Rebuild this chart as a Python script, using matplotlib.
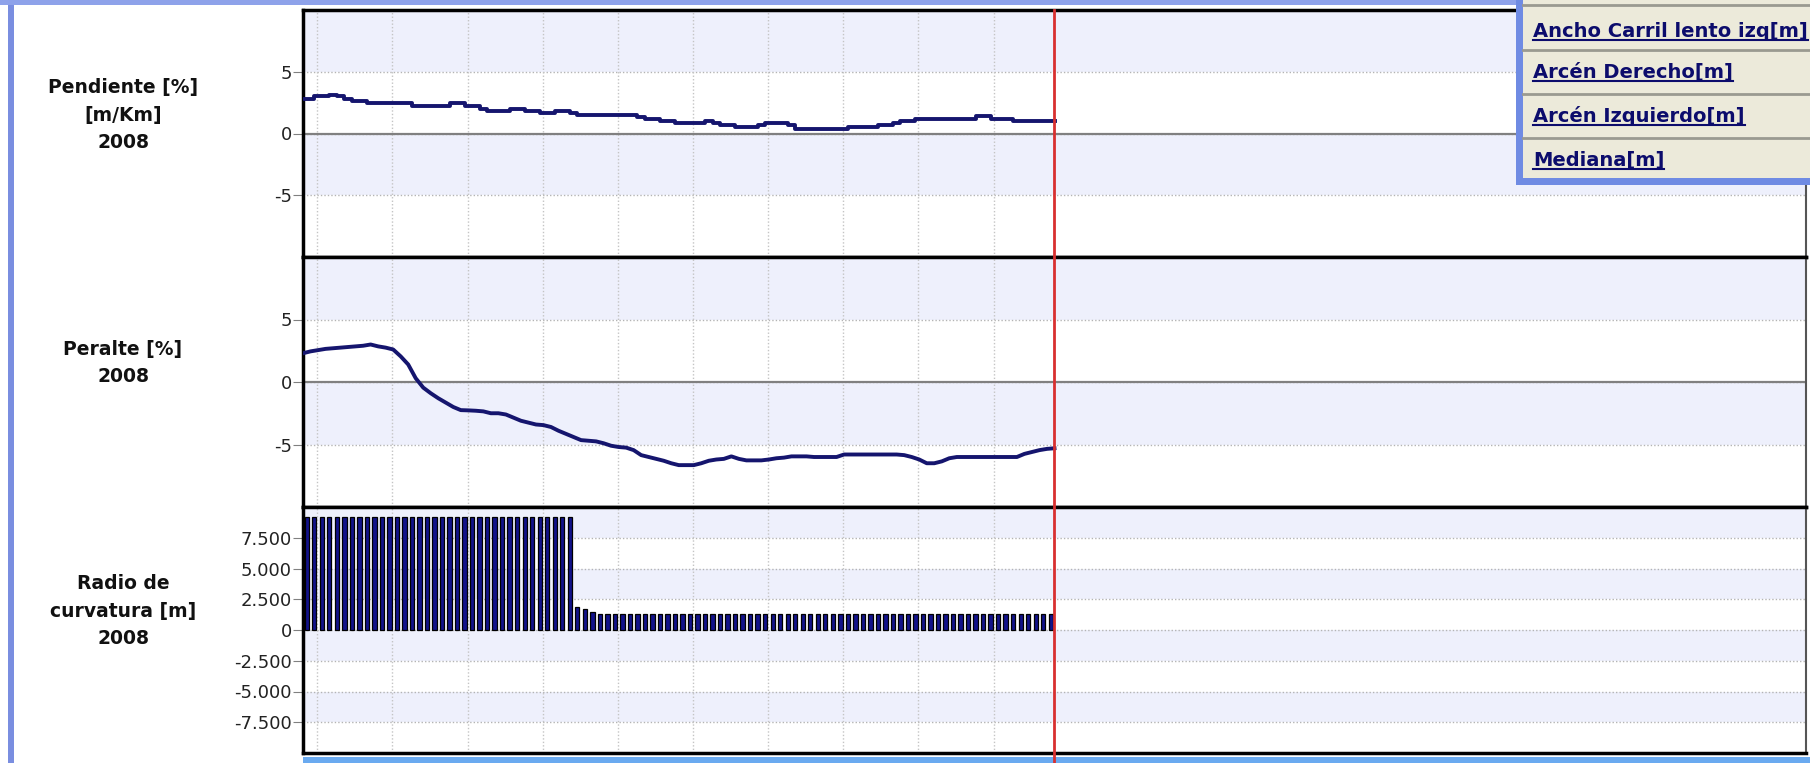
import numpy as np
import matplotlib.pyplot as plt
from matplotlib.patches import Rectangle
from matplotlib.lines import Line2D

plt.rcParams["axes.unicode_minus"] = False

# Data (road profile, 100 m steps)
pk = np.arange(101) * 0.1

pendiente = [2.8, 2.8, 3.0, 3.0, 3.1, 3.0, 2.8, 2.6, 2.6, 2.45,
             2.45, 2.45, 2.45, 2.45, 2.45, 2.25, 2.25, 2.25, 2.25, 2.25,
             2.45, 2.45, 2.25, 2.25, 2.0, 1.8, 1.8, 1.8, 2.0, 2.0,
             1.8, 1.8, 1.65, 1.65, 1.8, 1.8, 1.65, 1.5, 1.5, 1.5,
             1.5, 1.5, 1.5, 1.5, 1.5, 1.3, 1.15, 1.15, 1.0, 1.0,
             0.82, 0.82, 0.82, 0.82, 1.0, 0.82, 0.66, 0.66, 0.5, 0.5,
             0.5, 0.66, 0.82, 0.82, 0.82, 0.66, 0.37, 0.37, 0.37, 0.37,
             0.37, 0.37, 0.37, 0.55, 0.55, 0.55, 0.55, 0.7, 0.7, 0.87,
             1.03, 1.03, 1.2, 1.2, 1.2, 1.2, 1.2, 1.2, 1.2, 1.2,
             1.38, 1.38, 1.2, 1.2, 1.2, 1.03, 1.03, 1.03, 1.03, 1.03, 1.03]

peralte = [2.3, 2.45, 2.55, 2.65, 2.7, 2.75, 2.8, 2.85, 2.9, 3.0,
           2.85, 2.75, 2.6, 2.05, 1.4, 0.3, -0.45, -0.9, -1.3, -1.65,
           -2.0, -2.25, -2.27, -2.3, -2.35, -2.5, -2.5, -2.6, -2.85, -3.1,
           -3.25, -3.4, -3.45, -3.6, -3.9, -4.15, -4.4, -4.65, -4.7, -4.75,
           -4.9, -5.1, -5.2, -5.25, -5.45, -5.85, -6.0, -6.15, -6.3, -6.5,
           -6.65, -6.65, -6.65, -6.5, -6.3, -6.2, -6.15, -5.95, -6.15, -6.27,
           -6.27, -6.27, -6.2, -6.1, -6.05, -5.95, -5.95, -5.95, -6.0, -6.0,
           -6.0, -6.0, -5.8, -5.8, -5.8, -5.8, -5.8, -5.8, -5.8, -5.8,
           -5.85, -6.0, -6.2, -6.5, -6.5, -6.35, -6.1, -6.0, -6.0, -6.0,
           -6.0, -6.0, -6.0, -6.0, -6.0, -6.0, -5.75, -5.6, -5.45, -5.35, -5.3]

pk_tramo = np.arange(100) * 0.1 + 0.05
radio = [9200] * 36 + [1900, 1700, 1500] + [1300] * 61

labels = ["Pendiente [%]\n[m/Km]\n2008", "Peralte [%]\n2008",
          "Radio de\ncurvatura [m]\n2008"]
leyenda = ["Ancho Carril lento izq[m]", "Arcén Derecho[m]",
           "Arcén Izquierdo[m]", "Mediana[m]"]

W, H = 1810, 763
fig = plt.figure(figsize=(W / 100, H / 100), dpi=100)
fig.patch.set_facecolor("white")


def fx(x):
    return x / W


def fy(y):
    return 1 - y / H


navy = "#15156e"
band = "#eef0fc"
grid_x = [0.19 + k for k in range(10)]

panels = [(10, 257), (257, 507), (507, 753)]
limits = [(-10, 10), (-10, 10), (-10000, 10000)]
steps = [5, 5, 2500]
axes = []
for (top, bot), (lo, hi), st in zip(panels, limits, steps):
    ax = fig.add_axes([fx(303), fy(bot), fx(1806) - fx(303), (bot - top) / H])
    ax.set_xlim(0, 20)
    ax.set_ylim(lo, hi)
    edges = np.arange(lo, hi + st, st)
    for i in range(len(edges) - 1):
        if (len(edges) - 2 - i) % 2 == 0:
            ax.axhspan(edges[i], edges[i + 1], color=band, lw=0, zorder=0)
    for e in edges[1:-1]:
        ax.axhline(e, color="#b4b4b4", lw=1, ls=(0, (1, 1.5)), zorder=1)
    for g in grid_x:
        ax.axvline(g, color="#c4c4c4", lw=1, ls=(0, (1, 1.5)), zorder=1)
    ax.set_xticks([])
    ax.set_yticks(edges[1:-1])
    ax.tick_params(axis="y", length=7, color="#808080", labelsize=13,
                   pad=1, labelcolor="#222222")
    for s in ["left", "top", "bottom"]:
        ax.spines[s].set_linewidth(2.5)
        ax.spines[s].set_color("black")
    ax.spines["right"].set_color("#555555")
    ax.spines["right"].set_linewidth(1.5)
    axes.append(ax)

ax1, ax2, ax3 = axes
for ax in (ax1, ax2):
    ax.axhline(0, color="#808080", lw=1.6, zorder=2)

ax1.plot(pk, pendiente, color=navy, lw=2.8, drawstyle="steps-mid", zorder=3)
ax2.plot(pk, peralte, color=navy, lw=2.8, zorder=3)
ax3.bar(pk_tramo, radio, width=0.058, color="#12128a", edgecolor="black",
        lw=0.9, zorder=3)
ax3.yaxis.set_major_formatter(
    plt.FuncFormatter(lambda v, p: f"{v:,.0f}".replace(",", ".")))

# red cursor line across all panels
fig.add_artist(Line2D([fx(1054), fx(1054)], [fy(10), 0], color="#d83030",
                      lw=2, zorder=10))

# left labels
for txt, yc in zip(labels, [115, 363, 611]):
    fig.text(fx(123), fy(yc), txt, ha="center", va="center",
             fontsize=13.5, fontweight="bold", linespacing=1.55, color="#111111")

# window frame
fig.add_artist(Rectangle((fx(8), 0), fx(6), 1, color="#7a8ee0", lw=0))
fig.add_artist(Rectangle((0, fy(5)), fx(1516), 5 / H, color="#8ea2ea", lw=0))
fig.add_artist(Rectangle((fx(303), 0), 1, 6 / H, color="#6aaaf0", lw=0))

# legend panel in the top right corner
fig.add_artist(Rectangle((fx(1516), fy(185)), 1, 185 / H, color="#6f8be3",
                         lw=0, zorder=20))
fig.add_artist(Rectangle((fx(1523), fy(178)), 1, 178 / H, color="#eceada",
                         lw=0, zorder=21))
for ys in [5, 50, 94, 138]:
    fig.add_artist(Line2D([fx(1523), 1], [fy(ys), fy(ys)], color="#9a9a90",
                          lw=2, zorder=22))
texts = []
for txt, yb in zip(leyenda, [37, 78, 122, 166]):
    t = fig.text(fx(1533), fy(yb), txt, ha="left", va="baseline",
                 fontsize=14, fontweight="bold", color="#0c0c6c", zorder=23)
    texts.append((t, yb))

fig.canvas.draw()
r = fig.canvas.get_renderer()
for t, yb in texts:
    bb = t.get_window_extent(r)
    fig.add_artist(Line2D([bb.x0 / W, bb.x1 / W], [fy(yb + 3), fy(yb + 3)],
                          color="#0c0c6c", lw=1.5, zorder=23))

fig.savefig("out.png", dpi=100)
